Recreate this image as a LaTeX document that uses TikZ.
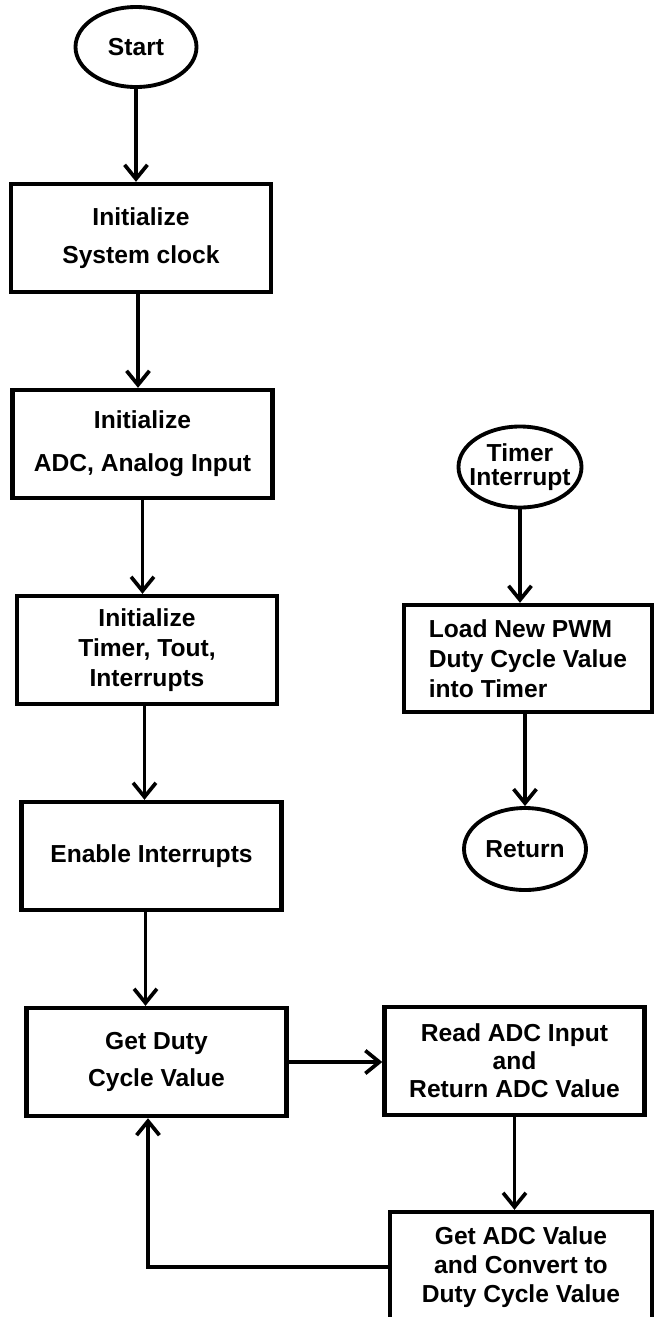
\documentclass[tikz,border=0pt]{standalone}
\usepackage{fontspec}
\setmainfont{Liberation Sans}
\usepackage{tikz}
\usetikzlibrary{shapes,shapes.geometric,arrows.meta,calc,positioning}
\tikzset{term/.style={draw,ellipse, line width=2.2pt, inner sep=0pt, align=center, minimum width=2.42cm, minimum height=1.6cm}}
\tikzset{box/.style={draw, rectangle, line width=2.5pt, minimum width=5.2cm, minimum height=2.16cm, align=center}}
\begin{document}
\begin{tikzpicture}[>={Straight Barb[length=8pt,width=13pt]}, line width=2.1pt, node distance=4.12cm,
  font=\fontsize{14}{17}\selectfont\bfseries]
\useasboundingbox (0,0) rectangle (13.08,-26.34);
% main loop
\node[term] at (2.72,-0.94) (start){Start};
\node[box, node distance=3.82cm, xshift=0.1cm][below of =start] (init1){Initialize\\[4.5pt]System clock};
\node[box, xshift=0.03cm][below of =init1] (init2){Initialize\\[7.4pt]ADC, Analog Input};
\node[box, xshift=0.09cm][below of =init2] (init3){Initialize\\Timer, Tout,\\Interrupts};
\node[box, xshift=0.09cm][below of =init3] (enable){Enable Interrupts};
\node[box, xshift=0.1cm][below of =enable] (getduty){Get Duty\\[4pt]Cycle Value};
\node[box, node distance=7.16cm, yshift=0.02cm][right of =getduty] (readadc){Read ADC Input\\[-1pt]and\\[-1pt]Return ADC Value};
\node[box, minimum width=5.24cm, minimum height=2.2cm, xshift=0.13cm][below of =readadc] (getadc){Get ADC Value\\[-0.6pt]and Convert to\\[-0.6pt]Duty Cycle Value};
% interrupt routine
\node[term, minimum width=2.46cm, minimum height=1.62cm] at (10.4,-9.34) (tint){Timer\\[-3.5pt]\makebox[0pt]{Interrupt}};
\node[box, align=left, minimum width=4.96cm, minimum height=2.14cm, node distance=3.83cm, xshift=0.16cm][below of =tint] (load){Load New PWM\\Duty Cycle Value\\into Timer};
\node[term, minimum width=2.44cm, minimum height=1.64cm, node distance=3.81cm, xshift=-0.06cm][below of =load] (return){Return};

\path[->](start.south) edge (start.south |- init1.north)
	([xshift=-0.06cm]init1.south) edge ([xshift=-0.06cm]init1.south |- init2.north)
	(init2.south) edge (init2.south |- init3.north)
	([xshift=-0.05cm]init3.south) edge ([xshift=-0.05cm]init3.south |- enable.north)
	([xshift=-0.12cm]enable.south) edge ([xshift=-0.12cm]enable.south |- getduty.north)
	(getduty.east) edge (getduty.east -| readadc.west)
	(readadc.south) edge (readadc.south |- getadc.north)
	(tint.south) edge (tint.south |- load.north)
	(return.north |- load.south) edge (return.north)
;
\draw[->] (getadc.west) -| ([xshift=-0.17cm]getduty.south);
\end{tikzpicture}
\end{document}
